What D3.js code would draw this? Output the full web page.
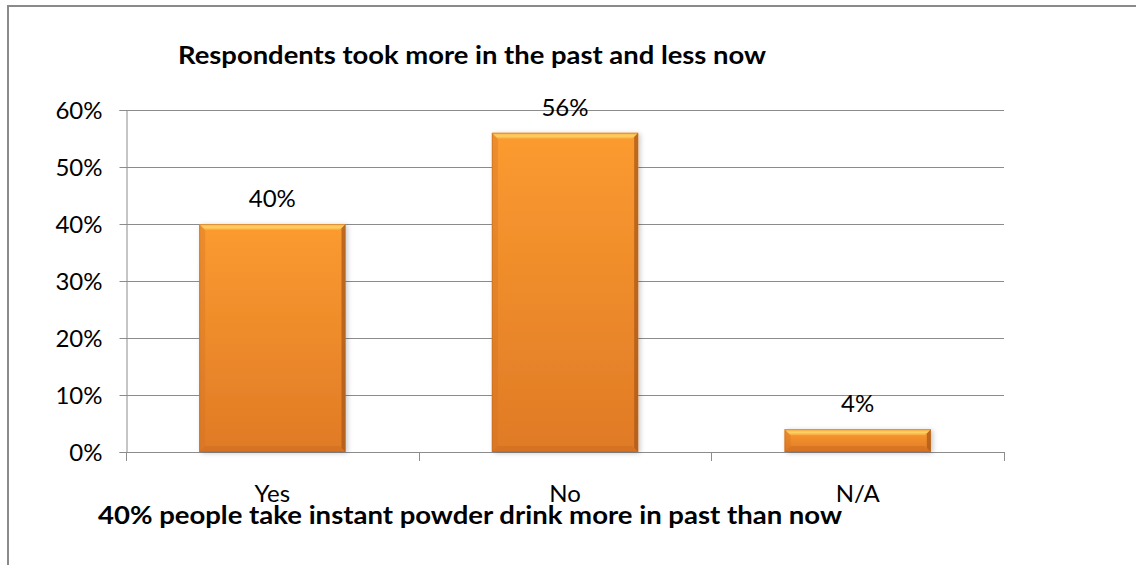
<!DOCTYPE html>
<html>
<head>
<meta charset="utf-8">
<script src="https://cdn.jsdelivr.net/npm/d3@7"></script>
<style>
  html, body { margin: 0; padding: 0; background: #fff; }
  svg { display: block; }
  text { font-family: Lato, "Open Sans", sans-serif; fill: #000; }
</style>
</head>
<body>
<svg id="chart" width="1136" height="565"></svg>
<script>
// Survey answers: did respondents take more in the past than now?
const categories = ["Yes", "No", "N/A"];
const shares = [0.40, 0.56, 0.04];
const tickValues = [0, 0.1, 0.2, 0.3, 0.4, 0.5, 0.6];
const title = "Respondents took more in the past and less now";
const footnote = "40% people take instant powder drink more in past than now";

const svg = d3.select("#chart");
const plot = { left: 126, right: 1004, top: 110, bottom: 452 };

const x = d3.scaleBand().domain(categories).range([plot.left, plot.right]).paddingInner(0.5).paddingOuter(0.25);
const xOuter = d3.scaleBand().domain(categories).range([plot.left, plot.right]);
const y = d3.scaleLinear().domain([0, 0.6]).range([plot.bottom, plot.top]);
const pct = d3.format(".0%");

const defs = svg.append("defs");
const grad = defs.append("linearGradient").attr("id", "barFill").attr("x1", 0).attr("y1", 0).attr("x2", 0).attr("y2", 1);
grad.append("stop").attr("offset", "0%").attr("stop-color", "#fb9b30");
grad.append("stop").attr("offset", "100%").attr("stop-color", "#e07a26");
const topGrad = defs.append("linearGradient").attr("id", "topBevel").attr("x1", 0).attr("y1", 0).attr("x2", 0).attr("y2", 1);
topGrad.append("stop").attr("offset", "0%").attr("stop-color", "#f8b24a");
topGrad.append("stop").attr("offset", "55%").attr("stop-color", "#fdd064");
topGrad.append("stop").attr("offset", "100%").attr("stop-color", "#fba53a");
const shadow = defs.append("filter").attr("id", "barShadow").attr("x", "-10%").attr("y", "-10%").attr("width", "130%").attr("height", "130%");
shadow.append("feDropShadow").attr("dx", 2).attr("dy", 1).attr("stdDeviation", 2.5).attr("flood-color", "#000").attr("flood-opacity", 0.22);

// Outer frame
svg.append("rect").attr("x", 8).attr("y", 6).attr("width", 1140).attr("height", 580)
  .attr("fill", "none").attr("stroke", "#8a8a8a").attr("stroke-width", 2);

// Gridlines
svg.append("g").selectAll("line").data(tickValues.filter(d => d > 0)).join("line")
  .attr("x1", plot.left).attr("x2", plot.right)
  .attr("y1", d => Math.round(y(d)) + 0.5).attr("y2", d => Math.round(y(d)) + 0.5)
  .attr("stroke", "#8c8c8c").attr("stroke-width", 1);

// Y axis
const yAxis = svg.append("g").attr("transform", `translate(${plot.left + 0.5},0)`)
  .call(d3.axisLeft(y).tickValues(tickValues).tickFormat(pct).tickSize(7).tickPadding(17));
yAxis.select(".domain").attr("stroke", "#8c8c8c");
yAxis.selectAll(".tick line").attr("stroke", "#8c8c8c");
yAxis.selectAll(".tick text").attr("font-size", 24).attr("font-family", "Lato, sans-serif").attr("fill", "#1a1a1a").attr("dy", "0.36em");

// X axis: line with boundary ticks between categories
const xAxisG = svg.append("g");
xAxisG.append("line").attr("x1", plot.left).attr("x2", plot.right)
  .attr("y1", plot.bottom + 0.5).attr("y2", plot.bottom + 0.5).attr("stroke", "#8c8c8c");
const bounds = categories.map(c => xOuter(c)).concat([plot.right]);
xAxisG.selectAll("line.bound").data(bounds).join("line").attr("class", "bound")
  .attr("x1", d => Math.round(d) + 0.5).attr("x2", d => Math.round(d) + 0.5)
  .attr("y1", plot.bottom).attr("y2", plot.bottom + 9).attr("stroke", "#8c8c8c");
xAxisG.selectAll("text").data(categories).join("text")
  .attr("x", d => x(d) + x.bandwidth() / 2).attr("y", 502)
  .attr("text-anchor", "middle").attr("font-size", 24).attr("fill", "#1a1a1a").text(d => d);

// Bars with bevelled edges
const bw = x.bandwidth();
const bars = svg.append("g").selectAll("g").data(categories.map((c, i) => ({ c, v: shares[i] }))).join("g");
bars.append("rect")
  .attr("x", d => x(d.c)).attr("y", d => y(d.v))
  .attr("width", bw).attr("height", d => y(0) - y(d.v))
  .attr("fill", "url(#barFill)").attr("filter", "url(#barShadow)");
function bevel(d, side, bev) {
  const x0 = x(d.c), x1 = x0 + bw, y0 = y(d.v), y1 = y(0);
  const b = Math.min(bev, (y1 - y0) / 2);
  if (side === "top") return [[x0, y0], [x1, y0], [x1 - b, y0 + b], [x0 + b, y0 + b]];
  if (side === "bottom") return [[x0, y1], [x1, y1], [x1 - b, y1 - b], [x0 + b, y1 - b]];
  if (side === "left") return [[x0, y0], [x0 + b, y0 + b], [x0 + b, y1 - b], [x0, y1]];
  return [[x1, y0], [x1 - b, y0 + b], [x1 - b, y1 - b], [x1, y1]];
}
const bevelStyle = {
  left:   { fill: "#d27424", opacity: 0.35, size: 6 },
  right:  { fill: "#a9581a", opacity: 0.75, size: 4 },
  bottom: { fill: "#c9691f", opacity: 0.45, size: 6 },
  top:    { fill: "url(#topBevel)", opacity: 1, size: 6 }
};
["left", "right", "bottom", "top"].forEach(side => {
  const s = bevelStyle[side];
  bars.append("polygon")
    .attr("points", d => bevel(d, side, s.size).map(p => p.join(",")).join(" "))
    .attr("fill", s.fill).attr("opacity", s.opacity);
});
bars.append("rect")
  .attr("x", d => x(d.c) + 0.5).attr("y", d => y(d.v) + 0.5)
  .attr("width", bw - 1).attr("height", d => y(0) - y(d.v) - 1)
  .attr("fill", "none").attr("stroke", "#b9651f").attr("stroke-width", 1).attr("opacity", 0.45);

// Value labels above bars
bars.append("text")
  .attr("x", d => x(d.c) + bw / 2).attr("y", d => y(d.v) - 17)
  .attr("text-anchor", "middle").attr("font-size", 24).attr("fill", "#1a1a1a")
  .text(d => pct(d.v));

// Title and footnote
svg.append("text").attr("x", 178).attr("y", 64)
  .attr("font-size", 25).attr("font-weight", "bold")
  .attr("textLength", 588).attr("lengthAdjust", "spacingAndGlyphs").text(title);
svg.append("text").attr("x", 98).attr("y", 524)
  .attr("font-size", 25).attr("font-weight", "bold")
  .attr("textLength", 744).attr("lengthAdjust", "spacingAndGlyphs").text(footnote);
</script>
</body>
</html>
